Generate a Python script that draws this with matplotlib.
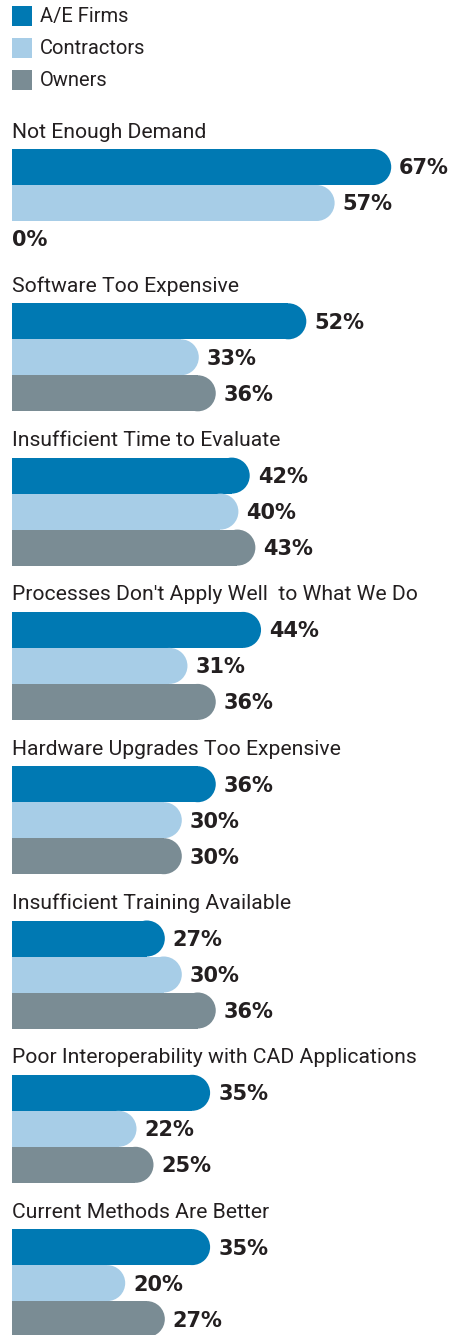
import matplotlib.pyplot as plt
from matplotlib.patches import Ellipse, Rectangle

# data
categories = [
    "Not Enough Demand",
    "Software Too Expensive",
    "Insufficient Time to Evaluate",
    "Processes Don't Apply Well  to What We Do",
    "Hardware Upgrades Too Expensive",
    "Insufficient Training Available",
    "Poor Interoperability with CAD Applications",
    "Current Methods Are Better",
]
ae_firms = [67, 52, 42, 44, 36, 27, 35, 35]
contractors = [57, 33, 40, 31, 30, 30, 22, 20]
owners = [0, 36, 43, 36, 30, 36, 25, 27]
series_names = ["A/E Firms", "Contractors", "Owners"]
colors = ["#0079b3", "#a7cde7", "#7a8c94"]

W, H = 452, 1335
px_per_pct = 5.66   # horizontal scale (pixels per percent)
left = 12           # left margin in pixels
bar_h = 36          # bar height in pixels
title_font = ["Roboto", "DejaVu Sans"]
text_color = "#231f20"

fig = plt.figure(figsize=(W / 100, H / 100), dpi=100)
ax = fig.add_axes([0, 0, 1, 1])
ax.set_xlim(-left / px_per_pct, (W - left) / px_per_pct)
ax.set_ylim(H, 0)
ax.axis("off")

# legend
sq = 20 / px_per_pct
for j, name in enumerate(series_names):
    yc = 16 + j * 32
    ax.add_patch(Rectangle((0, yc - 10), sq, 20, color=colors[j], lw=0))
    ax.text(28 / px_per_pct, yc + 0.5, name, va="center", ha="left", fontsize=14.5,
            family=title_font, color=text_color)

r = bar_h / 2 / px_per_pct  # cap radius in percent units
first_title = 132
pitch = 154.3
for i, cat in enumerate(categories):
    ty = first_title + i * pitch
    ax.text(0, ty, cat, va="center", ha="left", fontsize=15.2,
            family=title_font, color=text_color)
    for j, vals in enumerate([ae_firms, contractors, owners]):
        v = vals[i]
        yc = ty - 0.5 + 35.5 + j * bar_h
        if v > 0:
            ax.barh(yc, v - r, height=bar_h, left=0, color=colors[j], linewidth=0)
            ax.add_patch(Ellipse((v - r, yc), 2 * r, bar_h, color=colors[j], lw=0))
            lx = v + 8 / px_per_pct
        else:
            lx = 0
        ax.text(lx, yc + 1.5, f"{v}%", va="center", ha="left", fontsize=15,
                fontweight="bold", color=text_color)

fig.savefig("out.png", dpi=100)
